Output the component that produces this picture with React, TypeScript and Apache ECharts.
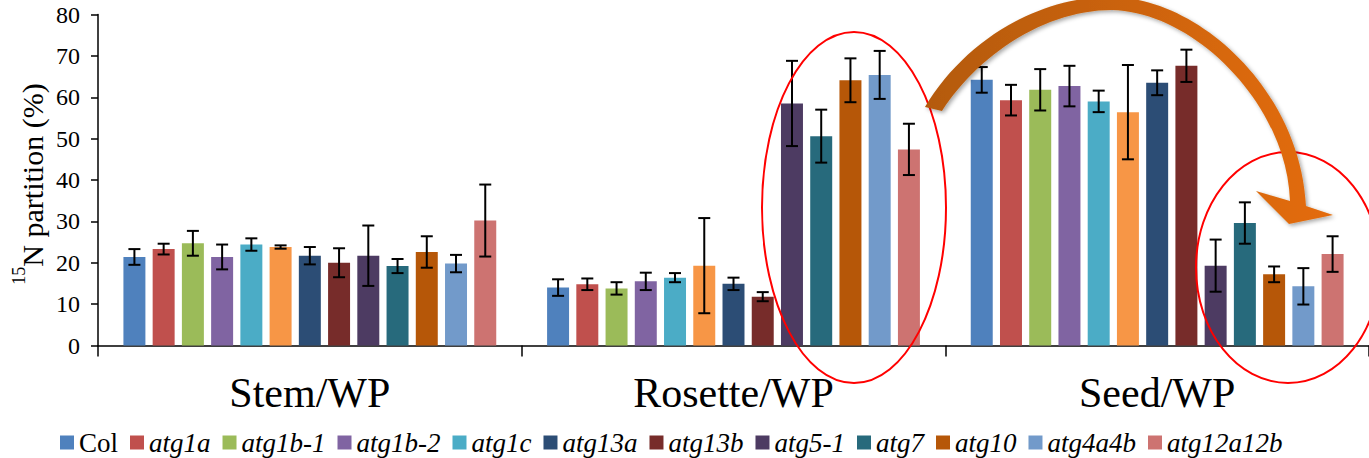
import React, { useEffect, useRef } from "react";
import * as echarts from "echarts";

const categories = ["Stem/WP", "Rosette/WP", "Seed/WP"];
const genotypes = ["Col", "atg1a", "atg1b-1", "atg1b-2", "atg1c", "unlabelled", "atg13a", "atg13b", "atg5-1", "atg7", "atg10", "atg4a4b", "atg12a12b"];
const legendNames = ["Col", "atg1a", "atg1b-1", "atg1b-2", "atg1c", "atg13a", "atg13b", "atg5-1", "atg7", "atg10", "atg4a4b", "atg12a12b"];
const colors = ["#4F81BD", "#C0504D", "#9BBB59", "#8064A2", "#4BACC6", "#F79646", "#2C4D75", "#772C2A", "#4D3B62", "#276A7C", "#B65708", "#729ACA", "#CD7371"];

const stemMeans = [21.4, 23.3, 24.7, 21.4, 24.4, 23.8, 21.7, 20.0, 21.7, 19.2, 22.6, 19.8, 30.2];
const stemErr = [1.9, 1.3, 3.0, 3.0, 1.5, 0.4, 2.1, 3.5, 7.3, 1.7, 3.8, 2.1, 8.7];
const rosetteMeans = [14.0, 14.8, 13.8, 15.5, 16.4, 19.3, 14.9, 11.8, 58.5, 50.6, 64.1, 65.4, 47.4];
const rosetteErr = [2.0, 1.4, 1.5, 2.1, 1.1, 11.5, 1.5, 1.1, 10.3, 6.4, 5.3, 5.8, 6.2];
const seedMeans = [64.2, 59.3, 61.8, 62.7, 59.0, 56.4, 63.5, 67.6, 19.3, 29.6, 17.2, 14.3, 22.1];
const seedErr = [3.1, 3.7, 5.0, 4.9, 2.6, 11.4, 3.0, 3.9, 6.3, 5.0, 1.9, 4.4, 4.3];

const yTicks = { min: 0, max: 80, interval: 10 };

const FONT = "Liberation Serif";
const BAR_GAP = 0.33;
const CAT_GAP = 0.12;

const ARROW_D =
  "M925 107 C965 40 1040 -5 1115 -3 C1200 0 1300 90 1306 206 L1333 215 L1289 224 L1256 191 L1290 201 C1287 105 1195 12 1112 10 C1045 10 978 55 942 111 Z";

export default function App() {
  const ref = useRef<HTMLDivElement>(null);
  useEffect(() => {
    if (!ref.current) return;
    try {
      echarts.graphic.registerShape("curvedArrow", echarts.graphic.extendPath(ARROW_D, {}));
    } catch (e) {}
    const chart = echarts.init(ref.current, null, { renderer: "svg" });
    const means = [stemMeans, rosetteMeans, seedMeans];
    const errs = [stemErr, rosetteErr, seedErr];
    const n = genotypes.length;

    const barSeries = genotypes.map((g, si) => ({
      type: "bar",
      name: g,
      data: categories.map((_, ci) => means[ci][si]),
      itemStyle: { color: colors[si] },
      barGap: BAR_GAP * 100 + "%",
      barCategoryGap: CAT_GAP * 100 + "%",
      z: 2,
    }));

    const errData: number[][] = [];
    for (let si = 0; si < n; si++) {
      for (let ci = 0; ci < categories.length; ci++) {
        errData.push([ci, means[ci][si], errs[ci][si], si]);
      }
    }

    const errSeries = {
      type: "custom",
      name: "err",
      data: errData,
      encode: { x: 0, y: 1 },
      z: 5,
      renderItem: (params: any, api: any) => {
        const ci = api.value(0);
        const m = api.value(1);
        const e = api.value(2);
        const si = api.value(3);
        const band = api.size([1, 0])[0];
        const w = (band * (1 - CAT_GAP)) / (n + (n - 1) * BAR_GAP);
        const total = n * w + (n - 1) * w * BAR_GAP;
        const cx = api.coord([ci, 0])[0] - total / 2 + si * w * (1 + BAR_GAP) + w / 2;
        const top = api.coord([ci, m + e])[1];
        const bot = api.coord([ci, m - e])[1];
        const hw = 6;
        const st = { stroke: "#000", lineWidth: 2 };
        return {
          type: "group",
          children: [
            { type: "line", shape: { x1: cx, y1: top, x2: cx, y2: bot }, style: st },
            { type: "line", shape: { x1: cx - hw, y1: top, x2: cx + hw, y2: top }, style: st },
            { type: "line", shape: { x1: cx - hw, y1: bot, x2: cx + hw, y2: bot }, style: st },
          ],
        };
      },
    };

    chart.setOption({
      animation: false,
      backgroundColor: "#fff",
      textStyle: { fontFamily: FONT },
      grid: { left: 98, right: -12, top: 14.5, bottom: 112.5, containLabel: false },
      legend: {
        data: legendNames.map((nm) => ({
          name: nm,
          textStyle: { fontStyle: nm === "Col" ? "normal" : "italic", fontFamily: FONT, fontSize: 27, color: "#000" },
        })),
        left: 55,
        top: 424,
        icon: "rect",
        itemWidth: 14,
        itemHeight: 14,
        itemGap: 12,
        textStyle: { fontFamily: FONT, fontSize: 27, color: "#000" },
      },
      xAxis: {
        type: "category",
        data: categories,
        axisLine: { lineStyle: { color: "#000", width: 1.5 } },
        axisTick: { show: true, length: 11, lineStyle: { color: "#000", width: 1.5 } },
        axisLabel: { interval: 0, fontFamily: FONT, fontSize: 42, color: "#000", margin: 26 },
      },
      yAxis: {
        type: "value",
        min: yTicks.min,
        max: yTicks.max,
        interval: yTicks.interval,
        axisLine: { show: true, lineStyle: { color: "#000", width: 1.5 } },
        axisTick: { show: true, length: 7, lineStyle: { color: "#000", width: 1.5 } },
        splitLine: { show: false },
        axisLabel: { fontFamily: FONT, fontSize: 24, color: "#000", margin: 18 },
      },
      graphic: [
        {
          type: "text",
          x: 32,
          y: 184,
          rotation: Math.PI / 2,
          style: {
            text: "{s|15}{m|N partition (%)}",
            align: "center",
            verticalAlign: "middle",
            fill: "#000",
            fontFamily: FONT,
            rich: {
              s: { fontFamily: FONT, fontSize: 18, lineHeight: 16, verticalAlign: "top", fill: "#000" },
              m: { fontFamily: FONT, fontSize: 30, lineHeight: 44, fill: "#000" },
            },
          },
          z: 50,
        },
        {
          type: "ellipse",
          shape: { cx: 854, cy: 207.5, rx: 92, ry: 175.5 },
          style: { fill: "none", stroke: "#FF0000", lineWidth: 2 },
          z: 60,
        },
        {
          type: "ellipse",
          shape: { cx: 1288, cy: 267.5, rx: 92, ry: 115.5 },
          style: { fill: "none", stroke: "#FF0000", lineWidth: 2 },
          z: 60,
        },
        {
          type: "curvedArrow",
          x: 0,
          y: 0,
          style: {
            fill: {
              type: "linear",
              x: 0,
              y: 0,
              x2: 1,
              y2: 0,
              colorStops: [
                { offset: 0, color: "#B45A0C" },
                { offset: 0.45, color: "#C9620A" },
                { offset: 1, color: "#E46C0A" },
              ],
            },
            shadowBlur: 4,
            shadowColor: "rgba(0,0,0,0.35)",
            shadowOffsetX: 2,
            shadowOffsetY: 2,
          },
          z: 70,
        },
      ],
      series: [...barSeries, errSeries],
    });
    return () => chart.dispose();
  }, []);
  return <div ref={ref} style={{ position: "absolute", left: 0, top: 0, width: 1369, height: 458 }} />;
}
